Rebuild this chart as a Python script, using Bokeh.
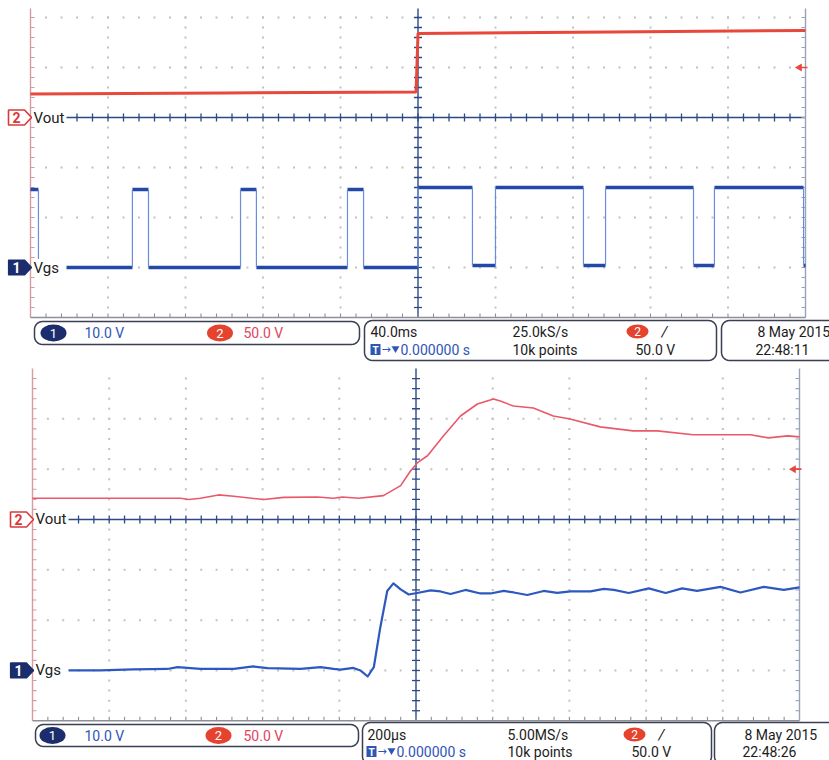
import numpy as np
from bokeh.plotting import figure
from bokeh.models import Range1d
from bokeh.layouts import column
from bokeh.embed import file_html
from bokeh.resources import INLINE
from bokeh.core.properties import value

# ------------------------------------------------------------------ data
ch1_volts_per_div = 10.0        # Vgs
ch2_volts_per_div = 50.0        # Vout
trigger_level_v = 50.0
channel_names = ["Vgs", "Vout"]
channel_scale_labels = ["10.0 V", "50.0 V"]
trigger_position_label = "0.000000 s"

# Screen 1 : 40.0 ms/div
s1_time_per_div = 40.0  # ms
s1_vout_t = [-200.0, -100.0, -1.0, 0.0, 100.0, 200.0]
s1_vout_v = [23.5, 24.5, 25.5, 84.0, 85.5, 87.0]
s1_vgs_edges = [-195.9, -147.4, -139.1, -91.6, -83.4, -36.4, -28.1, 0.0,
                28.1, 40.0, 85.4, 96.8, 142.2, 153.0, 199.0]
s1_vgs_levels = [15.6, 0.0, 15.6, 0.0, 15.6, 0.0, 15.6, 0.0,
                 16.0, 0.4, 16.0, 0.4, 16.0, 0.4, 16.0, 0.4]
s1_status = ["40.0ms", "25.0kS/s", "10k points", "50.0 V", "8 May 2015", "22:48:11"]

# Screen 2 : 200 us/div
s2_time_per_div = 200.0  # us
s2_vout_t = [-1000, -823, -648, -614, -593, -562, -515, -475, -397, -345, -257,
             -215, -192, -150, -85, -40, -14, 4, 30, 72, 116, 160, 202, 220,
             254, 306, 358, 402, 480, 566, 629, 723, 802, 872, 919, 969, 1000]
s2_vout_v = [21.1, 21.1, 21.1, 21.1, 19.8, 21.1, 24.4, 23.0, 19.8, 22.0, 22.4,
             21.1, 22.4, 21.1, 23.7, 33.6, 48.4, 56.4, 63.3, 83.1, 102.8, 114.7,
             119.6, 117.6, 112.7, 110.7, 102.8, 99.9, 92.0, 88.0, 88.0, 84.1,
             84.1, 84.1, 81.1, 83.1, 82.1]
s2_vgs_t = [-1000, -922, -823, -737, -648, -622, -562, -475, -424, -387, -301,
            -249, -215, -197, -163, -145, -126, -110, -93, -75, -59, -40, -19,
            3, 38, 64, 90, 129, 168, 194, 229, 255, 290, 333, 368, 403, 455,
            490, 516, 555, 607, 651, 694, 733, 794, 846, 907, 959, 1000]
s2_vgs_v = [0.0, 0.0, 0.0, 0.2, 0.3, 0.65, 0.3, 0.3, 0.8, 0.45, 0.3,
            0.65, 0.3, 0.15, 0.5, 0.0, -1.2, 0.65, 8.6, 15.8, 17.3, 16.1, 15.1,
            15.4, 15.9, 15.7, 15.2, 16.0, 15.3, 15.3, 15.8, 15.5, 15.0, 15.8,
            15.4, 15.7, 15.7, 16.2, 16.0, 15.4, 16.3, 15.4, 16.3, 15.8, 16.6,
            15.5, 16.6, 16.0, 16.5]
s2_status = ["200\u00b5s", "5.00MS/s", "10k points", "50.0 V", "8 May 2015", "22:48:26"]

# ------------------------------------------------------------------ style
FONT = value("Roboto")
W = 829
RED = "#e8473c"
PINK = "#e9596a"
BLUE = "#2348a8"
NAVY = "#1b2d6c"
TXT_BLUE = "#2f55b5"
TXT_RED = "#e0455c"
GRID = "#c2c2c2"
AXIS = "#2b4a86"
BOX = "#3b3f52"


def rrect(x0, y0, x1, y1, r):
    xs, ys = [], []
    for cx, cy, a0 in [(x1 - r, y0 + r, -90), (x1 - r, y1 - r, 0),
                       (x0 + r, y1 - r, 90), (x0 + r, y0 + r, 180)]:
        a = np.radians(np.linspace(a0, a0 + 90, 8))
        xs += list(cx + r * np.cos(a))
        ys += list(cy + r * np.sin(a))
    return xs, ys


def txt(p, x, y, s, color="#1c1c1c", size="14px", align="left", style="normal", font=FONT):
    p.text(x=[x], y=[y], text=[s], text_font=font, text_font_size=size,
           text_color=color, text_align=align, text_baseline="middle",
           text_font_style=style, x_range_name="px", y_range_name="py")


def panel(geo, t_div, status, traces):
    H, off = geo["h"], geo["off"]
    gl, gr, gb, dp, top = geo["gl"], geo["gr"], geo["gb"], geo["dp"], geo["top"]
    tL, tR = -5 * t_div, 5 * t_div
    tpp = (tR - tL) / (gr - gl)
    y0, y1 = -(H - gb) / dp, gb / dp
    gt = (gb - top) / dp
    p = figure(width=W, height=H, x_range=Range1d(tL - gl * tpp, tR + (W - gr) * tpp),
               y_range=Range1d(y0, y1), output_backend="svg", toolbar_location=None,
               min_border=0, x_axis_location=None, y_axis_location=None,
               outline_line_color=None, background_fill_color="white",
               border_fill_color="white")
    p.grid.visible = False
    p.extra_y_ranges = {
        "ch1": Range1d((y0 - 1) * ch1_volts_per_div, (y1 - 1) * ch1_volts_per_div),
        "ch2": Range1d((y0 - 4) * ch2_volts_per_div, (y1 - 4) * ch2_volts_per_div),
        "py": Range1d(H + off, off)}
    p.extra_x_ranges = {"px": Range1d(0, W)}

    # ---- graticule dots
    xs, ys = [], []
    for k in range(1, 10):
        if k == 5:
            continue
        yy = np.arange(0.2, gt + 1e-6, 0.2)
        xs += [tL + k * t_div] * len(yy)
        ys += list(yy)
    minor = tL + np.arange(1, 50) * t_div / 5
    for j in range(1, int(gt + 1e-6) + 1):
        if j == 4:
            continue
        xs += list(minor)
        ys += [j] * len(minor)
    p.scatter(xs, ys, size=2.0, marker="square", color=GRID, line_color=None)

    tick_y = np.arange(0.2, gt - 0.05, 0.2)
    # center lines
    p.line([tL, tR], [4, 4], line_color=AXIS, line_width=1.3)
    p.segment(x0=minor, y0=4 - 0.08, x1=minor, y1=4 + 0.08, line_color=AXIS, line_width=1.3)
    p.line([0, 0], [0, gt], line_color=AXIS, line_width=1.4)
    p.segment(x0=-4 * tpp, y0=tick_y, x1=4 * tpp, y1=tick_y, line_color=AXIS, line_width=1.3)
    # borders
    p.line([tL, tL], [0, gt], line_color="#d79aa3", line_width=1.4)
    p.segment(x0=tL, y0=tick_y, x1=tL + 4 * tpp, y1=tick_y, line_color="#d79aa3", line_width=1.1)
    p.line([tR, tR], [0, gt], line_color="#99a2b8", line_width=1.4)
    p.segment(x0=tR - 4 * tpp, y0=tick_y, x1=tR, y1=tick_y, line_color="#99a2b8", line_width=1.1)
    p.line([tL, tR], [0, 0], line_color="#8e8f98", line_width=1.6)
    p.segment(x0=minor, y0=0, x1=minor, y1=0.08, line_color="#8e8f98", line_width=1.1)

    # ---- traces
    traces(p, tL, tR)

    # trigger level arrow
    p.segment(x0=[tR - 5 * tpp], y0=[trigger_level_v], x1=[tR + 2 * tpp], y1=[trigger_level_v],
              y_range_name="ch2", line_color=RED, line_width=1.6)
    p.scatter(x=[tR - 6 * tpp], y=[trigger_level_v], y_range_name="ch2", marker="triangle",
              angle=np.pi / 2, size=8, color=RED, line_color=None)

    # ---- channel markers + names
    h8 = 7.5 / dp
    for lvl, name, num, filled in [(4, channel_names[1], "2", False), (1, channel_names[0], "1", True)]:
        p.quad(left=[gl + 1.5], right=[gl + 36], top=[lvl + 0.17], bottom=[lvl - 0.17],
               x_range_name="px", fill_color="white", line_color=None)
        mx = [gl - 22, gl - 6, gl + 1, gl - 6, gl - 22]
        my = [lvl + h8, lvl + h8, lvl, lvl - h8, lvl - h8]
        if filled:
            p.patch(mx, my, x_range_name="px", fill_color=NAVY, line_color=NAVY, line_width=1.2)
        else:
            p.patch(mx, my, x_range_name="px", fill_color="white", line_color="#d83a3a", line_width=1.6)
        p.text(x=[gl - 14], y=[lvl], text=[num], x_range_name="px", text_font=FONT,
               text_font_size="14px", text_font_style="bold", text_align="center",
               text_baseline="middle", text_color="white" if filled else "#d83a3a")
        p.text(x=[gl + 3], y=[lvl], text=[name], x_range_name="px", text_font=FONT,
               text_font_size="15px", text_align="left", text_baseline="middle",
               text_color="#222222")

    # ---- status bar
    s = geo["status"]
    for key in ["b1", "b2", "b3"]:
        bx, by = rrect(*s[key], 8)
        p.patch(bx, by, x_range_name="px", y_range_name="py", fill_color="white",
                line_color=BOX, line_width=1.5)
    r1, r2, rc = s["row1"], s["row2"], s["rowc"]
    for (cx, col, num, lab) in [(s["p1"], NAVY, "1", channel_scale_labels[0]),
                                (s["p2"], "#e5432e", "2", channel_scale_labels[1])]:
        p.ellipse(x=[cx], y=[rc], width=26, height=17, x_range_name="px", y_range_name="py",
                  fill_color=col, line_color=None)
        txt(p, cx, rc, num, color="white", size="13px", align="center")
    txt(p, 84, rc, channel_scale_labels[0], color=TXT_BLUE)
    txt(p, 243, rc, channel_scale_labels[1], color=TXT_RED)
    c0, c1, c2 = s["cols"]
    txt(p, c0, r1, status[0])
    txt(p, c1, r1, status[1])
    txt(p, c1, r2, status[2])
    txt(p, c2, r2, status[3])
    tp = s["trig"]
    p.ellipse(x=[tp], y=[r1], width=22, height=14, x_range_name="px", y_range_name="py",
              fill_color="#e5432e", line_color=None)
    txt(p, tp, r1, "2", color="white", size="12px", align="center")
    txt(p, tp + 24, r1, "/", size="15px", style="italic")
    tx = s["tbox"]
    p.quad(left=[tx], right=[tx + 10], top=[r2 - 5.5], bottom=[r2 + 5.5], x_range_name="px",
           y_range_name="py", fill_color=TXT_BLUE, line_color=None)
    txt(p, tx + 5, r2 + 0.5, "T", color="white", size="10px", align="center", style="bold")
    txt(p, tx + 11, r2, "\u2192", color=TXT_BLUE, size="11px", font=value("DejaVu Sans"))
    p.scatter(x=[tx + 25], y=[r2 - 1], x_range_name="px", y_range_name="py",
              marker="inverted_triangle", size=8, color=TXT_BLUE, line_color=None)
    txt(p, tx + 30, r2, trigger_position_label, color=TXT_BLUE)
    txt(p, s["date"], r1, status[4])
    txt(p, s["date"] - 2, r2, status[5])
    return p


def top_traces(p, tL, tR):
    p.line(s1_vout_t, s1_vout_v, y_range_name="ch2", line_color=RED, line_width=3)
    x0 = [tL] + s1_vgs_edges
    x1 = s1_vgs_edges + [tR]
    p.segment(x0=x0, y0=s1_vgs_levels, x1=x1, y1=s1_vgs_levels, y_range_name="ch1",
              line_color=BLUE, line_width=3.5)
    p.segment(x0=s1_vgs_edges, y0=s1_vgs_levels[:-1], x1=s1_vgs_edges, y1=s1_vgs_levels[1:],
              y_range_name="ch1", line_color="#6a8ddb", line_width=1.2)


def bottom_traces(p, tL, tR):
    p.line(s2_vout_t, s2_vout_v, y_range_name="ch2", line_color=PINK, line_width=1.6,
           line_join="round")
    p.line(s2_vgs_t, s2_vgs_v, y_range_name="ch1", line_color="#2c58c0", line_width=2.2,
           line_join="round")


geo_top = dict(h=362, off=0, gl=30, gr=805, gb=317, dp=50.0, top=8,
               status=dict(b1=(34, 321, 359, 344), b2=(364, 320, 716, 360),
                           b3=(721, 320, 845, 360), row1=331, row2=349, rowc=332.5,
                           p1=53, p2=219.5, cols=(370, 512, 635), trig=637,
                           tbox=370, date=757))
geo_bot = dict(h=398, off=362, gl=32, gr=799, gb=358.3, dp=50.33, top=6,
               status=dict(b1=(35, 724, 358, 746), b2=(362, 722, 711, 764),
                           b3=(714, 722, 845, 764), row1=734, row2=751, rowc=735,
                           p1=52, p2=218, cols=(367, 507, 631), trig=634,
                           tbox=366, date=744))

p_top = panel(geo_top, s1_time_per_div, s1_status, top_traces)
p_bot = panel(geo_bot, s2_time_per_div, s2_status, bottom_traces)

layout = column(p_top, p_bot, spacing=0)
open("out.html", "w").write(file_html(layout, INLINE))
